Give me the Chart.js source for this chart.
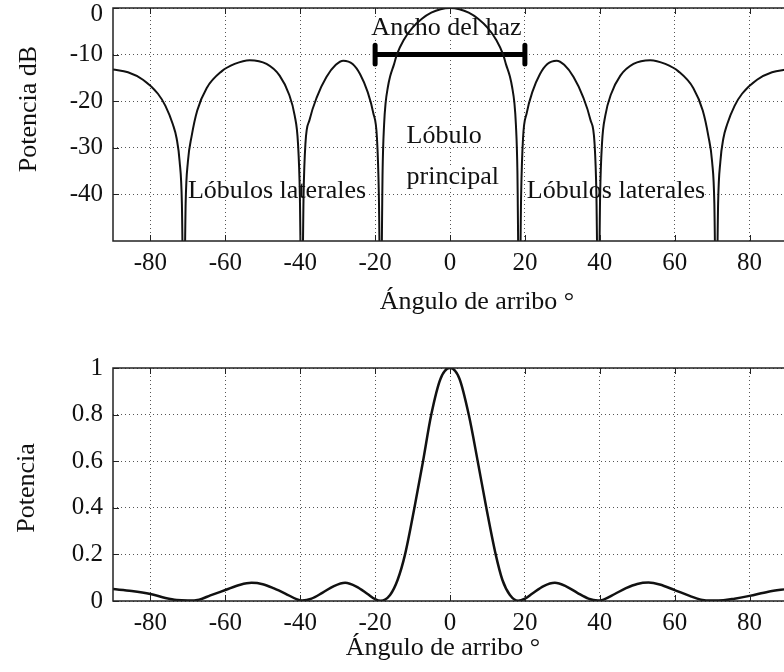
<!DOCTYPE html>
<html>
<head>
<meta charset="utf-8">
<script src="https://cdn.jsdelivr.net/npm/chart.js@4/dist/chart.umd.min.js"></script>
<style>
  html, body { margin: 0; padding: 0; background: #fff; overflow: hidden; }
  body { width: 784px; height: 672px; position: relative; }
  .box { position: absolute; left: 0; }
</style>
</head>
<body>
<div class="box" style="top:0px"><canvas id="topChart" width="800" height="330"></canvas></div>
<div class="box" style="top:340px"><canvas id="bottomChart" width="800" height="332"></canvas></div>
<script>
// tick labels
var xTicks = [-80, -60, -40, -20, 0, 20, 40, 60, 80];
var dbTicks = [-40, -30, -20, -10, 0];
var powTicks = [0, 0.2, 0.4, 0.6, 0.8, 1];

// top plot: power in dB vs arrival angle
var dbAngles = [-90, -86, -82, -78, -76, -74, -73, -72.2, -71.6, -71.1, -70.6, -70, -69, -67.5, -65, -61, -57.5, -53.5, -49, -45.5,
    -43, -41.5, -40.6, -40.1, -39.6, -39.1, -38.6, -37.5, -35.5, -33, -30.5, -28.5, -26, -24, -22, -20.5, -19.5, -19, -18.5, -18,
    -17.6, -17.2, -16.6, -16, -15, -14.2, -12.4, -10, -7.5, -5, -2.5, 0,
    2.5, 5, 7.5, 10, 12.4, 14.2, 15, 16, 16.6, 17.2, 17.6, 18, 18.5, 19, 19.5, 20.5, 22, 24, 26, 28.5, 30.5, 33, 35.5, 37.5,
    38.6, 39.1, 39.6, 40.1, 40.6, 41.5, 43, 45.5, 49, 53.5, 57.5, 61, 65, 67.5, 69, 70, 70.6, 71.1, 71.6, 72.2, 73, 74, 76, 78,
    82, 86, 90];
var dbValues = [-13.2, -13.8, -15.4, -18.4, -21.0, -25.0, -28.0, -33, -42, -70, -42, -33, -27.5, -22.0, -17.2, -13.6, -12.0, -11.2, -12.0, -14.5,
    -18.5, -23.0, -29, -40, -70, -40, -29, -24, -19.0, -14.8, -12.2, -11.3, -12.0, -14.2, -18.0, -22.5, -28, -40, -70, -35,
    -25, -20.4, -17, -14.7, -12.2, -10, -6.9, -4.2, -2.3, -1.0, -0.25, 0,
    -0.25, -1.0, -2.3, -4.2, -6.9, -10, -12.2, -14.7, -17, -20.4, -25, -35, -70, -40, -28, -22.5, -18.0, -14.2, -12.0, -11.3, -12.2, -14.8, -19.0, -24,
    -29, -40, -70, -40, -29, -23.0, -18.5, -14.5, -12.0, -11.2, -12.0, -13.6, -17.2, -22.0, -27.5, -33, -42, -70, -42, -33, -28.0, -25.0, -21.0, -18.4,
    -15.4, -13.8, -13.2];

// beam width marker
var beamX = [-20, 20];
var beamY = [-10, -10];
var capY = [-8, -12];

// bottom plot: linear power vs arrival angle
var powAngles = [-90, -85, -80, -76, -73, -70, -67, -64, -60, -56, -53, -50, -47, -44, -41, -39.5, -37, -34, -31, -28, -25, -22, -20, -18.5,
    -16, -14, -12, -9.5, -7.2, -5, -2.5, 0, 2.5, 5, 7.4, 9.7, 12.2, 14, 16, 18.2, 20, 22, 25, 28, 31, 34, 37, 39.5, 41, 44, 47,
    50, 53, 56, 60, 64, 67, 70, 73, 76, 80, 85, 90];
var powValues = [0.051, 0.043, 0.030, 0.013, 0.004, 0.002, 0.006, 0.024, 0.047, 0.070, 0.078, 0.072, 0.054, 0.032, 0.008, 0.002, 0.010, 0.036, 0.064, 0.078, 0.062, 0.030, 0.008, 0.001,
    0.026, 0.090, 0.20, 0.40, 0.60, 0.80, 0.955, 1.0, 0.955, 0.80, 0.60, 0.40, 0.20, 0.090, 0.026, 0.001, 0.010, 0.032, 0.064, 0.078, 0.063, 0.035, 0.010, 0.002, 0.006, 0.030, 0.055,
    0.073, 0.079, 0.071, 0.047, 0.022, 0.006, 0.002, 0.003, 0.010, 0.022, 0.040, 0.052];

var SERIF = "'Liberation Serif', 'DejaVu Serif', serif";
Chart.defaults.font.family = SERIF;
Chart.defaults.color = '#111';

function pts(xs, ys) {
    var out = [];
    for (var i = 0; i < xs.length; i++) out.push({x: xs[i], y: ys[i]});
    return out;
}

// frame, tick marks and free texts (matlab style)
var framePlugin = {
    id: 'frame',
    beforeDatasetsDraw: function(chart, args, opts) {
        var ctx = chart.ctx, sx = chart.scales.x, sy = chart.scales.y;
        ctx.save();
        (opts.notes || []).forEach(function(t) {
            ctx.font = '26px ' + SERIF;
            ctx.textAlign = 'left';
            ctx.textBaseline = 'middle';
            var px = sx.getPixelForValue(t.x), py = sy.getPixelForValue(t.y);
            var w = ctx.measureText(t.text).width;
            ctx.fillStyle = '#fff';
            ctx.fillRect(px, py - 9, w, 18);
            ctx.fillStyle = '#111';
            ctx.fillText(t.text, px, py);
        });
        ctx.restore();
    },
    afterDraw: function(chart, args, opts) {
        var ctx = chart.ctx, a = chart.chartArea, sx = chart.scales.x, sy = chart.scales.y;
        ctx.save();
        ctx.strokeStyle = '#222';
        ctx.lineWidth = 1.5;
        ctx.strokeRect(a.left, a.top, a.right - a.left, a.bottom - a.top);
        ctx.lineWidth = 1;
        ctx.beginPath();
        sx.ticks.forEach(function(t) {
            var px = Math.round(sx.getPixelForValue(t.value)) + 0.5;
            ctx.moveTo(px, a.bottom); ctx.lineTo(px, a.bottom - 6);
            ctx.moveTo(px, a.top); ctx.lineTo(px, a.top + 6);
        });
        sy.ticks.forEach(function(t) {
            var py = Math.round(sy.getPixelForValue(t.value)) + 0.5;
            ctx.moveTo(a.left, py); ctx.lineTo(a.left + 6, py);
        });
        ctx.stroke();

        ctx.fillStyle = '#111';
        // top label of the dB axis sits a bit lower so it is not cut
        if (opts.topLabel) {
            ctx.font = '25px ' + SERIF;
            ctx.textAlign = 'right';
            ctx.textBaseline = 'middle';
            ctx.fillText(opts.topLabel, a.left - 10, a.top + 6);
        }
        ctx.font = '26px ' + SERIF;
        ctx.textAlign = 'center';
        ctx.textBaseline = 'middle';
        ctx.fillText(opts.xTitle.text, opts.xTitle.x, opts.xTitle.y);
        ctx.translate(opts.yTitle.x, opts.yTitle.y);
        ctx.rotate(-Math.PI / 2);
        ctx.fillText(opts.yTitle.text, 0, 0);
        ctx.restore();
    }
};

function makeScales(yMin, yMax, yTicks, xHeight, hideTop) {
    var gridStyle = { color: '#555', lineWidth: 1, drawTicks: false };
    return {
        x: {
            type: 'linear', min: -90, max: 90,
            afterBuildTicks: function(s) { s.ticks = xTicks.map(function(v) { return {value: v}; }); },
            afterFit: function(s) { s.height = xHeight; s.paddingLeft = 0; s.paddingRight = 0; },
            grid: gridStyle,
            border: { display: false, dash: [1, 3] },
            ticks: { padding: 7, font: { size: 25 }, color: '#111', callback: function(v) { return String(v); } }
        },
        y: {
            type: 'linear', min: yMin, max: yMax,
            afterBuildTicks: function(s) { s.ticks = yTicks.map(function(v) { return {value: v}; }); },
            afterFit: function(s) { s.width = 113; s.paddingTop = 0; s.paddingBottom = 0; },
            grid: gridStyle,
            border: { display: false, dash: [1, 3] },
            ticks: {
                padding: 10, font: { size: 25 }, color: '#111',
                callback: function(v) { return (hideTop && v === yMax) ? '' : String(v); }
            }
        }
    };
}

new Chart(document.getElementById('topChart'), {
    type: 'line',
    data: {
        datasets: [
            { data: pts(dbAngles, dbValues), borderColor: '#111', borderWidth: 2, pointRadius: 0, cubicInterpolationMode: 'monotone' },
            { data: pts(beamX, beamY), borderColor: '#000', borderWidth: 5, pointRadius: 0 },
            { data: pts([beamX[0], beamX[0]], capY), borderColor: '#000', borderWidth: 5, pointRadius: 0, borderCapStyle: 'round' },
            { data: pts([beamX[1], beamX[1]], capY), borderColor: '#000', borderWidth: 5, pointRadius: 0, borderCapStyle: 'round' }
        ]
    },
    options: {
        responsive: false,
        devicePixelRatio: 1,
        animation: false,
        layout: { padding: { top: 8, right: 13, left: 0, bottom: 0 } },
        scales: makeScales(-50, 0, dbTicks, 89, true),
        plugins: {
            legend: { display: false },
            tooltip: { enabled: false },
            frame: {
                notes: [
                    { text: 'Ancho del haz', x: -21, y: -4.4 },
                    { text: 'Lóbulo', x: -11.6, y: -27.6 },
                    { text: 'principal', x: -11.6, y: -36.2 },
                    { text: 'Lóbulos laterales', x: -70, y: -39.2 },
                    { text: 'Lóbulos laterales', x: 20.5, y: -39.2 }
                ],
                topLabel: String(dbTicks[dbTicks.length - 1]),
                xTitle: { text: 'Ángulo de arribo °', x: 477, y: 302 },
                yTitle: { text: 'Potencia dB', x: 29, y: 109 }
            }
        }
    },
    plugins: [framePlugin]
});

new Chart(document.getElementById('bottomChart'), {
    type: 'line',
    data: {
        datasets: [
            { data: pts(powAngles, powValues), borderColor: '#111', borderWidth: 2.5, pointRadius: 0, cubicInterpolationMode: 'monotone' }
        ]
    },
    options: {
        responsive: false,
        devicePixelRatio: 1,
        animation: false,
        layout: { padding: { top: 28, right: 13, left: 0, bottom: 0 } },
        scales: makeScales(0, 1, powTicks, 71, false),
        plugins: {
            legend: { display: false },
            tooltip: { enabled: false },
            frame: {
                notes: [],
                xTitle: { text: 'Ángulo de arribo °', x: 443, y: 308 },
                yTitle: { text: 'Potencia', x: 27, y: 148 }
            }
        }
    },
    plugins: [framePlugin]
});
</script>
</body>
</html>
